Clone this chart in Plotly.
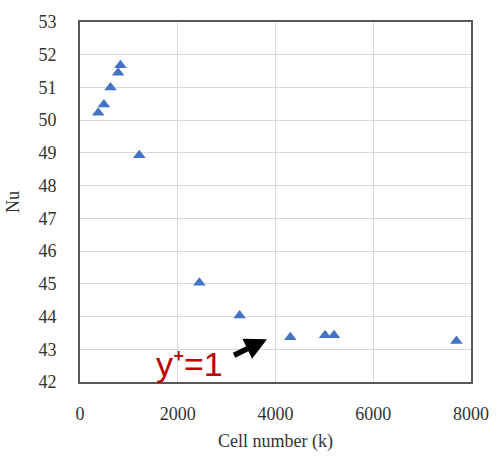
import plotly.graph_objects as go

cells_k = [372, 488, 624, 780, 827, 1213, 2443, 3266, 4303, 5014, 5197, 7703]
nu = [50.23, 50.48, 51.0, 51.45, 51.68, 48.93, 45.03, 44.03, 43.37, 43.43, 43.43, 43.25]
x_ticks = [0, 2000, 4000, 6000, 8000]
y_ticks = list(range(42, 54))

fig = go.Figure()
fig.add_trace(go.Scatter(
    x=cells_k, y=nu, mode="markers",
    marker=dict(symbol="triangle-up", size=11, color="#4472C4"),
    showlegend=False,
))

serif = "Times New Roman, Liberation Serif, DejaVu Serif, serif"
tfont = dict(family=serif, size=18, color="#333333")
fig.update_layout(
    width=501, height=460,
    margin=dict(l=80, r=27, t=14, b=77),
    paper_bgcolor="white", plot_bgcolor="white",
    font=tfont,
)
fig.update_xaxes(
    range=[0, 8000], tickvals=x_ticks, ticktext=[str(v) for v in x_ticks],
    tickfont=tfont,
    showgrid=True, gridcolor="#d9d9d9", gridwidth=1,
    showline=True, linecolor="#595959", linewidth=2, mirror=True,
    zeroline=False, ticks="", ticklabelstandoff=14,
    title=dict(text="Cell number (k)", font=tfont, standoff=12),
)
fig.update_yaxes(
    range=[42, 53], tickvals=y_ticks, ticktext=[str(v) for v in y_ticks],
    tickfont=tfont,
    showgrid=True, gridcolor="#d9d9d9", gridwidth=1,
    showline=True, linecolor="#595959", linewidth=2, mirror=True,
    zeroline=False, ticks="", ticklabelstandoff=18,
    title=dict(text="Nu", font=tfont, standoff=14),
)

fig.add_annotation(
    x=3827, y=43.31, xref="x", yref="y",
    ax=-37, ay=18, axref="pixel", ayref="pixel",
    text=" ", showarrow=True, arrowhead=2, arrowsize=0.8, arrowwidth=5.5, arrowcolor="black",
)
fig.add_annotation(
    x=2250, y=42.55, xref="x", yref="y",
    text="y⁺=1", showarrow=False,
    font=dict(family="Liberation Sans", size=34, color="#C00000"),
    xanchor="center", yanchor="middle",
)

fig.write_html("out.html")
